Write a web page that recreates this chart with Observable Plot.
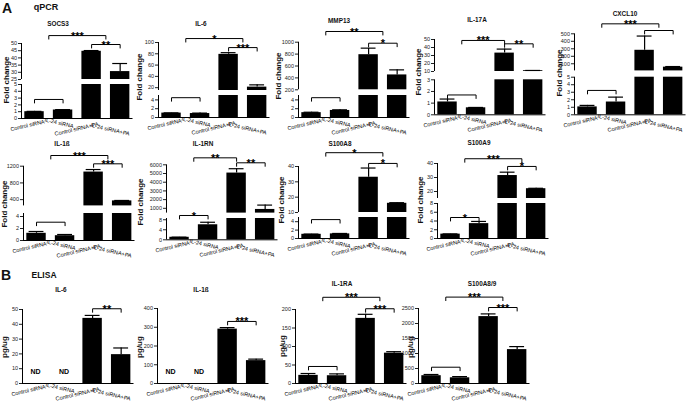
<!DOCTYPE html>
<html><head><meta charset="utf-8">
<script src="https://cdn.jsdelivr.net/npm/d3@7"></script>
<script src="https://cdn.jsdelivr.net/npm/@observablehq/plot@0.6"></script>
<style>
body{margin:0;background:#fff;}
#fig{position:relative;width:699px;height:404px;overflow:hidden;font-family:"Liberation Sans",Arial,sans-serif;color:#111;background:#fff}
#fig svg{position:absolute;left:0;top:0;overflow:visible}
.lbl{position:absolute;white-space:nowrap;font-weight:bold;transform:translate(-50%,-50%);line-height:1}
.rot{transform:translate(-50%,-50%) rotate(-90deg)}
</style></head><body><div id="fig"></div><script>
const categories = ["Control siRNA", "IL-24 siRNA", "Control siRNA+PA", "IL-24 siRNA+PA"];

// ---- A: qPCR (fold change), broken axes: [lower range], [upper range]
const socs3Mean = [1.0, 1.25, 44.6, 30.5];
const socs3Err = [0.05, 0.06, 0.5, 5.6];
const socs3Lower = [0, 5], socs3Upper = [25, 50];
const socs3LowerTicks = [0, 1, 2, 3, 4, 5], socs3UpperTicks = [25, 30, 35, 40, 45, 50];
const socs3Sig = [[0, 1, "", 2.8], [2, 3, "**", 49.3], [0.5, 2.5, "***", 55.5]];

const il6Mean = [1.0, 0.9, 79, 21];
const il6Err = [0.05, 0.1, 3, 4];
const il6Lower = [0, 5], il6Upper = [15, 100];
const il6LowerTicks = [0, 2, 4], il6UpperTicks = [20, 40, 60, 80, 100];
const il6Sig = [[0, 1, "", 4.5], [2, 3, "***", 91], [0.5, 2.5, "*", 107]];

const mmp13Mean = [1.1, 1.6, 790, 450];
const mmp13Err = [0.1, 0.15, 110, 85];
const mmp13Lower = [0, 5], mmp13Upper = [200, 1000];
const mmp13LowerTicks = [0, 2, 4], mmp13UpperTicks = [200, 400, 600, 800, 1000];
const mmp13Sig = [[0, 1, "", 4.5], [2, 3, "*", 983], [0.5, 2.5, "**", 1180]];

const il17aMean = [1.1, 0.6, 33, 11];
const il17aErr = [0.25, 0.03, 5, 0.3];
const il17aLower = [0, 3], il17aUpper = [10, 50];
const il17aLowerTicks = [0, 1, 2, 3], il17aUpperTicks = [10, 20, 30, 40, 50];
const il17aSig = [[0, 1, "", 1.7], [2, 3, "**", 44.6], [0.5, 2, "***", 48.8]];

const cxcl10Mean = [1.05, 1.7, 280, 55];
const cxcl10Err = [0.2, 0.65, 190, 8];
const cxcl10Lower = [0, 5], cxcl10Upper = [5, 500];
const cxcl10LowerTicks = [0, 1, 2, 3, 4, 5], cxcl10UpperTicks = [100, 200, 300, 400, 500];
const cxcl10Sig = [[0, 1, "", 3.24], [2, 3, "", 544], [0.5, 2.5, "***", 633]];

const il1bMean = [1.2, 0.8, 1060, 370];
const il1bErr = [0.3, 0.2, 60, 10];
const il1bLower = [0, 4.5], il1bUpper = [250, 1200];
const il1bLowerTicks = [0, 2, 4], il1bUpperTicks = [400, 800, 1200];
const il1bSig = [[0, 1, "", 3.05], [2, 3, "***", 1257], [0.5, 2.5, "***", 1456]];

const il1rnMean = [1.0, 6.0, 5050, 870];
const il1rnErr = [0.05, 1.0, 500, 500];
const il1rnLower = [0, 8.5], il1rnUpper = [450, 6000];
const il1rnLowerTicks = [0, 4, 8], il1rnUpperTicks = [1000, 2000, 3000, 4000, 5000, 6000];
const il1rnSig = [[0, 1, "*", 9.7], [2, 3, "**", 6230], [0.5, 2, "**", 6800]];

const s100a8Mean = [1.0, 1.1, 33, 16];
const s100a8Err = [0.05, 0.1, 6, 0.4];
const s100a8Lower = [0, 5], s100a8Upper = [10, 40];
const s100a8LowerTicks = [0, 2, 4], s100a8UpperTicks = [10, 20, 30, 40];
const s100a8Sig = [[0, 1, "", 4.5], [2, 3, "*", 42], [0.5, 2.5, "*", 49]];

const s100a9Mean = [1.0, 3.4, 31.4, 22];
const s100a9Err = [0.05, 0.5, 2.4, 0.3];
const s100a9Lower = [0, 8], s100a9Upper = [15, 40];
const s100a9LowerTicks = [0, 2, 4, 6, 8], s100a9UpperTicks = [20, 30, 40];
const s100a9Sig = [[0, 1, "*", 4.8], [2, 3, "*", 37.9], [0.5, 2.5, "***", 43.4]];

// ---- B: ELISA (pg/ug), single axes; null = ND
const eIl6Mean = [null, null, 44, 19.5];
const eIl6Err = [null, null, 2, 4.5];
const eIl6Range = [0, 50], eIl6Ticks = [0, 10, 20, 30, 40, 50];
const eIl6Sig = [[2, 3, "**", 50.5]];

const eIl1bMean = [null, null, 290, 122];
const eIl1bErr = [null, null, 8, 8];
const eIl1bRange = [0, 400], eIl1bTicks = [0, 100, 200, 300, 400];
const eIl1bSig = [[2, 3, "***", 331]];

const eIl1raMean = [22, 21, 176, 82];
const eIl1raErr = [5, 5, 11, 4];
const eIl1raRange = [0, 200], eIl1raTicks = [0, 50, 100, 150, 200];
const eIl1raSig = [[0, 1, "", 46], [2, 3, "***", 202], [0.5, 2.5, "***", 233]];

const eS100Mean = [260, 190, 2230, 1130];
const eS100Err = [40, 40, 90, 100];
const eS100Range = [0, 2500], eS100Ticks = [0, 500, 1000, 1500, 2000, 2500];
const eS100Sig = [[0, 1, "", 543], [2, 3, "***", 2533], [0.5, 2.5, "***", 2880]];

// ---------------- layout (pixels) ----------------
const panels = [
  {title: "SOCS3", ylab: "Fold change", mean: socs3Mean, err: socs3Err, low: socs3Lower, lowTicks: socs3LowerTicks, up: socs3Upper, upTicks: socs3UpperTicks, sig: socs3Sig,
   L: {axis: 21, up: [43, 79], low: [84, 118], title: [58, 24], ylab: [7, 80]}},
  {title: "IL-6", ylab: "Fold change", mean: il6Mean, err: il6Err, low: il6Lower, lowTicks: il6LowerTicks, up: il6Upper, upTicks: il6UpperTicks, sig: il6Sig,
   L: {axis: 158, up: [42, 90], low: [95, 117], title: [201, 24], ylab: [140, 77]}},
  {title: "MMP13", ylab: "Fold change", mean: mmp13Mean, err: mmp13Err, low: mmp13Lower, lowTicks: mmp13LowerTicks, up: mmp13Upper, upTicks: mmp13UpperTicks, sig: mmp13Sig,
   L: {axis: 298, up: [41.7, 89.3], low: [95, 117], title: [339, 21], ylab: [279, 76]}},
  {title: "IL-17A", ylab: "Fold change", mean: il17aMean, err: il17aErr, low: il17aLower, lowTicks: il17aLowerTicks, up: il17aUpper, upTicks: il17aUpperTicks, sig: il17aSig,
   L: {axis: 434, up: [39, 71], low: [79.3, 114.3], title: [477, 20], ylab: [419, 72]}},
  {title: "CXCL10", ylab: "Fold change", mean: cxcl10Mean, err: cxcl10Err, low: cxcl10Lower, lowTicks: cxcl10LowerTicks, up: cxcl10Upper, upTicks: cxcl10UpperTicks, sig: cxcl10Sig,
   L: {axis: 574, up: [33.3, 70.4], low: [76.7, 114.3], title: [625, 14], ylab: [560, 73]}},
  {title: "IL-1ß", ylab: "Fold change", mean: il1bMean, err: il1bErr, low: il1bLower, lowTicks: il1bLowerTicks, up: il1bUpper, upTicks: il1bUpperTicks, sig: il1bSig,
   L: {axis: 23, up: [165.7, 205.4], low: [213, 240], title: [62, 144], ylab: [5, 204]}},
  {title: "IL-1RN", ylab: "Fold change", mean: il1rnMean, err: il1rnErr, low: il1rnLower, lowTicks: il1rnLowerTicks, up: il1rnUpper, upTicks: il1rnUpperTicks, sig: il1rnSig,
   L: {axis: 166, up: [164.3, 212.6], low: [218, 239.3], title: [203, 144], ylab: [141, 202]}},
  {title: "S100A8", ylab: "Fold change", mean: s100a8Mean, err: s100a8Err, low: s100a8Lower, lowTicks: s100a8LowerTicks, up: s100a8Upper, upTicks: s100a8UpperTicks, sig: s100a8Sig,
   L: {axis: 298, up: [166, 212], low: [217, 238], title: [340, 144], ylab: [282, 200]}},
  {title: "S100A9", ylab: "Fold change", mean: s100a9Mean, err: s100a9Err, low: s100a9Lower, lowTicks: s100a9LowerTicks, up: s100a9Upper, upTicks: s100a9UpperTicks, sig: s100a9Sig,
   L: {axis: 437, up: [163, 198], low: [203, 238], title: [479, 143], ylab: [421, 200]}},
  {title: "IL-6", ylab: "pg/ug", mean: eIl6Mean, err: eIl6Err, low: eIl6Range, lowTicks: eIl6Ticks, up: null, sig: eIl6Sig,
   L: {axis: 22, low: [309, 383], title: [61, 290], ylab: [5, 347]}},
  {title: "IL-1ß", ylab: "pg/ug", mean: eIl1bMean, err: eIl1bErr, low: eIl1bRange, lowTicks: eIl1bTicks, up: null, sig: eIl1bSig,
   L: {axis: 157, low: [308, 383], title: [201, 290], ylab: [140, 347]}},
  {title: "IL-1RA", ylab: "pg/ug", mean: eIl1raMean, err: eIl1raErr, low: eIl1raRange, lowTicks: eIl1raTicks, up: null, sig: eIl1raSig,
   L: {axis: 295, low: [309, 383], title: [342, 284], ylab: [283, 346]}},
  {title: "S100A8/9", ylab: "pg/ug", mean: eS100Mean, err: eS100Err, low: eS100Range, lowTicks: eS100Ticks, up: null, sig: eS100Sig,
   L: {axis: 418, low: [308, 383], title: [482, 284], ylab: [411, 347]}}
];

const W = 699, H = 404, XD = [-0.456, 3.45], XW = 111.5;
const FONT = "'Liberation Sans', Arial, sans-serif";
const fig = document.getElementById("fig");

function label(text, x, y, size, cls) {
  const d = document.createElement("div");
  d.className = "lbl" + (cls ? " " + cls : "");
  d.textContent = text;
  d.style.left = x + "px"; d.style.top = y + "px"; d.style.fontSize = size + "px";
  fig.appendChild(d);
}

// x-label styles (staggered, alternately tilted as in the source figure)
const xlabStyle = [
  {dx: -7, dy: 7, rotate: -13},
  {dx: -4, dy: 4.5, rotate: 13},
  {dx: -15, dy: 10.5, rotate: -13},
  {dx: -10, dy: 11, rotate: 13}
];

function segment(p, which) {
  const L = p.L;
  const dom = which === "up" ? p.up : p.low;
  const px = which === "up" ? L.up : L.low;
  const ticks = which === "up" ? p.upTicks : p.lowTicks;
  const hasUp = !!p.up;
  const upp = (dom[1] - dom[0]) / (px[1] - px[0]);
  const rows = categories.map((c, i) => ({c, i, m: p.mean[i], e: p.err[i]}));
  const barRows = rows.filter(r => r.m != null && r.m > dom[0]);
  const errRows = rows.filter(r => r.m != null && (which === "up" ? r.m > dom[0] : (!hasUp || r.m <= p.up[0])));
  const brs = p.sig.filter(b => which === "up" ? b[3] >= p.up[0] : (!hasUp || b[3] < p.up[0]))
    .map(([a, b, text, y]) => ({a, b, text, y, mid: (a + b) / 2}));
  const tk = 3.5 * upp;
  const brPts = brs.flatMap((d, k) => [
    {k, x: d.a, y: d.y - tk}, {k, x: d.a, y: d.y}, {k, x: d.b, y: d.y}, {k, x: d.b, y: d.y - tk}
  ]);
  const marks = [
    Plot.rect(barRows, {x1: r => r.i - 0.34, x2: r => r.i + 0.34, y1: dom[0], y2: r => Math.min(r.m, dom[1]), fill: "#000"}),
    Plot.ruleX(errRows, {x: "i", y1: "m", y2: r => r.m + r.e, stroke: "#000", strokeWidth: 1.2}),
    Plot.ruleY(errRows, {y: r => r.m + r.e, x1: r => r.i - 0.26, x2: r => r.i + 0.26, stroke: "#000", strokeWidth: 1.2}),
    Plot.ruleX([XD[0]], {stroke: "#000", strokeWidth: 1}),
    Plot.line(brPts, {x: "x", y: "y", z: "k", stroke: "#000", strokeWidth: 1}),
    Plot.text(brs.filter(d => d.text), {x: "mid", y: "y", text: "text", dy: 0.5, lineAnchor: "middle", fontSize: 11, fontWeight: "bold", fill: "#000"})
  ];
  if (which === "low") {
    marks.push(Plot.ruleY([dom[0]], {stroke: "#000", strokeWidth: 1}));
    xlabStyle.forEach((s, i) => {
      marks.push(Plot.text([rows[i]], {x: "i", frameAnchor: "bottom", text: "c", dx: s.dx, dy: s.dy, rotate: s.rotate,
        fontSize: 5.5, fill: "#000", lineAnchor: "middle"}));
    });
    const nd = rows.filter(r => r.m == null);
    if (nd.length) marks.push(Plot.text(nd, {x: "i", frameAnchor: "bottom", text: () => "ND", dy: -10, fontSize: 7, fontWeight: "bold", fill: "#000"}));
  }
  const svg = Plot.plot({
    width: W, height: H,
    marginLeft: L.axis, marginRight: W - L.axis - XW,
    marginTop: px[0], marginBottom: H - px[1],
    x: {domain: XD, axis: null},
    y: {domain: dom, ticks, tickSize: 3, tickPadding: 1.5, tickFormat: d => String(d), label: null},
    style: {background: "transparent", overflow: "visible", fontSize: "5.5px", fontFamily: FONT, color: "#222"},
    marks
  });
  fig.appendChild(svg);
}

panels.forEach(p => {
  if (p.up) segment(p, "up");
  segment(p, "low");
  label(p.title, p.L.title[0], p.L.title[1], 6.4);
  label(p.ylab, p.L.ylab[0], p.L.ylab[1], 8, "rot");
});

label("A", 7, 8, 14);
label("qPCR", 46, 7, 9);
label("B", 6, 275, 14);
label("ELISA", 44, 275, 8.5);
</script></body></html>
